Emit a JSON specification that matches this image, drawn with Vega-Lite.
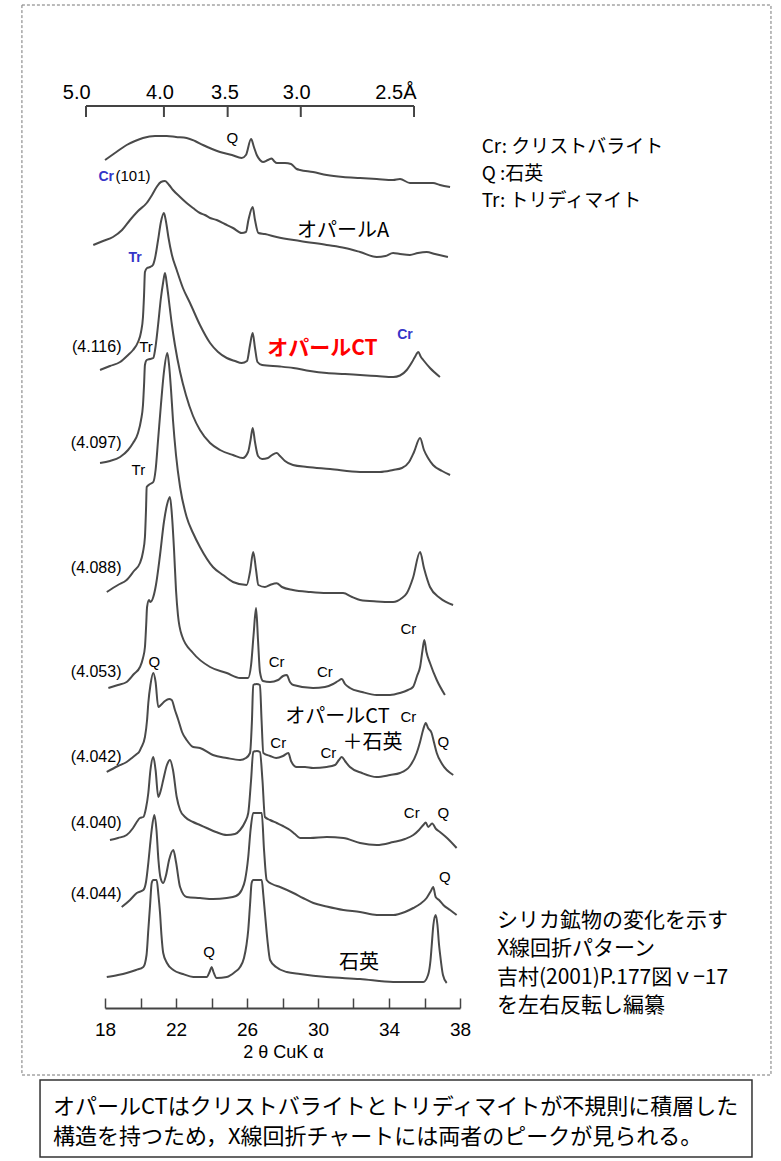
{
  "$schema": "https://vega.github.io/schema/vega-lite/v6.json",
  "width": 355,
  "height": 1008,
  "autosize": {"type": "none"},
  "padding": {"left": 105, "top": 0, "right": 321, "bottom": 153},
  "background": "white",
  "config": {"view": {"stroke": null}, "font": "Liberation Sans"},
  "datasets": {
    "traces": [
      {"s":1,"x":18.0,"y":848},{"s":1,"x":18.56,"y":855},{"s":1,"x":19.22,"y":863},{"s":1,"x":19.69,"y":867},{"s":1,"x":20.14,"y":870},{"s":1,"x":20.82,"y":872},{"s":1,"x":21.48,"y":872},{"s":1,"x":22.0,"y":871},{"s":1,"x":22.6,"y":870},{"s":1,"x":23.07,"y":867},{"s":1,"x":23.52,"y":863},{"s":1,"x":24.03,"y":859},{"s":1,"x":24.48,"y":856},{"s":1,"x":25.15,"y":853},{"s":1,"x":25.7,"y":850},{"s":1,"x":25.94,"y":853},{"s":1,"x":26.23,"y":869},{"s":1,"x":26.39,"y":861},{"s":1,"x":26.55,"y":853},{"s":1,"x":26.73,"y":848},{"s":1,"x":26.9,"y":846},{"s":1,"x":27.18,"y":848},{"s":1,"x":27.39,"y":849.5},{"s":1,"x":27.52,"y":847},{"s":1,"x":27.69,"y":845},{"s":1,"x":28.14,"y":845},{"s":1,"x":28.48,"y":844},{"s":1,"x":28.8,"y":839},{"s":1,"x":28.99,"y":838},{"s":1,"x":29.72,"y":836},{"s":1,"x":30.49,"y":833},{"s":1,"x":31.41,"y":831},{"s":1,"x":32.37,"y":830},{"s":1,"x":33.31,"y":829},{"s":1,"x":34.23,"y":828},{"s":1,"x":34.62,"y":829},{"s":1,"x":35.18,"y":825},{"s":1,"x":35.63,"y":825},{"s":1,"x":36.12,"y":825},{"s":1,"x":36.48,"y":825},{"s":1,"x":36.87,"y":823},{"s":1,"x":37.44,"y":821},
      {"s":2,"x":17.34,"y":763},{"s":2,"x":17.89,"y":767},{"s":2,"x":18.45,"y":771},{"s":2,"x":18.96,"y":778},{"s":2,"x":19.41,"y":788},{"s":2,"x":19.86,"y":797},{"s":2,"x":20.35,"y":805},{"s":2,"x":20.65,"y":813},{"s":2,"x":20.91,"y":821},{"s":2,"x":21.15,"y":826},{"s":2,"x":21.38,"y":827},{"s":2,"x":21.61,"y":823},{"s":2,"x":21.83,"y":818},{"s":2,"x":22.23,"y":811},{"s":2,"x":22.6,"y":805},{"s":2,"x":22.96,"y":800},{"s":2,"x":23.35,"y":795},{"s":2,"x":23.63,"y":793},{"s":2,"x":23.92,"y":790},{"s":2,"x":24.29,"y":788},{"s":2,"x":24.75,"y":784},{"s":2,"x":25.21,"y":780},{"s":2,"x":25.7,"y":775},{"s":2,"x":25.94,"y":776},{"s":2,"x":26.08,"y":788},{"s":2,"x":26.32,"y":801},{"s":2,"x":26.45,"y":788},{"s":2,"x":26.64,"y":775},{"s":2,"x":27.01,"y":774},{"s":2,"x":27.67,"y":771},{"s":2,"x":28.99,"y":767},{"s":2,"x":30.49,"y":763},{"s":2,"x":31.52,"y":760},{"s":2,"x":32.37,"y":756},{"s":2,"x":33.31,"y":751},{"s":2,"x":33.8,"y":752},{"s":2,"x":34.23,"y":755},{"s":2,"x":34.62,"y":754},{"s":2,"x":35.18,"y":753},{"s":2,"x":35.63,"y":755},{"s":2,"x":36.12,"y":756},{"s":2,"x":36.59,"y":754},{"s":2,"x":37.32,"y":751},
      {"s":3,"x":17.72,"y":638},{"s":3,"x":18.28,"y":642},{"s":3,"x":18.85,"y":646},{"s":3,"x":19.3,"y":653},{"s":3,"x":19.58,"y":658},{"s":3,"x":19.86,"y":666},{"s":3,"x":20.03,"y":676},{"s":3,"x":20.14,"y":691},{"s":3,"x":20.2,"y":713},{"s":3,"x":20.25,"y":736},{"s":3,"x":20.37,"y":740},{"s":3,"x":20.54,"y":741},{"s":3,"x":20.7,"y":743},{"s":3,"x":20.82,"y":750},{"s":3,"x":20.99,"y":768},{"s":3,"x":21.15,"y":786},{"s":3,"x":21.32,"y":795},{"s":3,"x":21.44,"y":786},{"s":3,"x":21.57,"y":771},{"s":3,"x":21.77,"y":753},{"s":3,"x":22.04,"y":738},{"s":3,"x":22.39,"y":720},{"s":3,"x":22.79,"y":705},{"s":3,"x":23.35,"y":683},{"s":3,"x":23.92,"y":665},{"s":3,"x":24.37,"y":656},{"s":3,"x":24.86,"y":650},{"s":3,"x":25.32,"y":647},{"s":3,"x":25.7,"y":645},{"s":3,"x":26.0,"y":647},{"s":3,"x":26.17,"y":663},{"s":3,"x":26.32,"y":675},{"s":3,"x":26.45,"y":660},{"s":3,"x":26.59,"y":646},{"s":3,"x":26.85,"y":643},{"s":3,"x":27.86,"y":641.5},{"s":3,"x":28.61,"y":640},{"s":3,"x":29.55,"y":637},{"s":3,"x":30.49,"y":635},{"s":3,"x":31.52,"y":634},{"s":3,"x":32.37,"y":633},{"s":3,"x":33.31,"y":632},{"s":3,"x":34.24,"y":631},{"s":3,"x":34.62,"y":632.5},{"s":3,"x":35.0,"y":638},{"s":3,"x":35.3,"y":646},{"s":3,"x":35.46,"y":651},{"s":3,"x":35.65,"y":656},{"s":3,"x":35.8,"y":651},{"s":3,"x":35.93,"y":648},{"s":3,"x":36.31,"y":640},{"s":3,"x":36.87,"y":631},
      {"s":4,"x":17.72,"y":545},{"s":4,"x":18.28,"y":547},{"s":4,"x":18.85,"y":551},{"s":4,"x":19.3,"y":558},{"s":4,"x":19.58,"y":565},{"s":4,"x":19.86,"y":575},{"s":4,"x":20.03,"y":588},{"s":4,"x":20.14,"y":603},{"s":4,"x":20.2,"y":623},{"s":4,"x":20.25,"y":643},{"s":4,"x":20.35,"y":648},{"s":4,"x":20.54,"y":649},{"s":4,"x":20.72,"y":650},{"s":4,"x":20.82,"y":658},{"s":4,"x":20.99,"y":683},{"s":4,"x":21.15,"y":710},{"s":4,"x":21.27,"y":725},{"s":4,"x":21.38,"y":735},{"s":4,"x":21.49,"y":723},{"s":4,"x":21.61,"y":706},{"s":4,"x":21.77,"y":683},{"s":4,"x":21.94,"y":663},{"s":4,"x":22.23,"y":636},{"s":4,"x":22.56,"y":613},{"s":4,"x":22.96,"y":592},{"s":4,"x":23.35,"y":578},{"s":4,"x":23.92,"y":565},{"s":4,"x":24.48,"y":558},{"s":4,"x":25.21,"y":553},{"s":4,"x":25.77,"y":550},{"s":4,"x":26.06,"y":556},{"s":4,"x":26.2,"y":568},{"s":4,"x":26.32,"y":580},{"s":4,"x":26.45,"y":566},{"s":4,"x":26.62,"y":552},{"s":4,"x":26.85,"y":549},{"s":4,"x":27.18,"y":550},{"s":4,"x":27.41,"y":553},{"s":4,"x":27.67,"y":555},{"s":4,"x":27.86,"y":552},{"s":4,"x":28.14,"y":547},{"s":4,"x":28.59,"y":543},{"s":4,"x":29.38,"y":541},{"s":4,"x":30.68,"y":539},{"s":4,"x":32.37,"y":536},{"s":4,"x":33.49,"y":536},{"s":4,"x":34.23,"y":538},{"s":4,"x":34.73,"y":540},{"s":4,"x":35.13,"y":546},{"s":4,"x":35.41,"y":556},{"s":4,"x":35.75,"y":570},{"s":4,"x":35.97,"y":558},{"s":4,"x":36.2,"y":550},{"s":4,"x":36.48,"y":543},{"s":4,"x":36.99,"y":537},{"s":4,"x":37.44,"y":533},
      {"s":5,"x":18.1,"y":416},{"s":5,"x":18.73,"y":423},{"s":5,"x":19.22,"y":428},{"s":5,"x":19.63,"y":437},{"s":5,"x":19.97,"y":445},{"s":5,"x":20.14,"y":456},{"s":5,"x":20.25,"y":471},{"s":5,"x":20.31,"y":498},{"s":5,"x":20.35,"y":521},{"s":5,"x":20.54,"y":524},{"s":5,"x":20.72,"y":526},{"s":5,"x":20.85,"y":538},{"s":5,"x":20.99,"y":568},{"s":5,"x":21.15,"y":603},{"s":5,"x":21.32,"y":636},{"s":5,"x":21.51,"y":655},{"s":5,"x":21.61,"y":643},{"s":5,"x":21.72,"y":618},{"s":5,"x":21.83,"y":588},{"s":5,"x":22.0,"y":553},{"s":5,"x":22.23,"y":521},{"s":5,"x":22.6,"y":491},{"s":5,"x":22.96,"y":475},{"s":5,"x":23.35,"y":461},{"s":5,"x":24.08,"y":441},{"s":5,"x":24.65,"y":433},{"s":5,"x":25.21,"y":426},{"s":5,"x":25.98,"y":423},{"s":5,"x":26.17,"y":436},{"s":5,"x":26.35,"y":456},{"s":5,"x":26.51,"y":438},{"s":5,"x":26.64,"y":423},{"s":5,"x":27.01,"y":421},{"s":5,"x":27.35,"y":423.5},{"s":5,"x":27.67,"y":424.7},{"s":5,"x":27.97,"y":421},{"s":5,"x":28.59,"y":418},{"s":5,"x":29.55,"y":416},{"s":5,"x":30.49,"y":415},{"s":5,"x":31.41,"y":415},{"s":5,"x":31.92,"y":411},{"s":5,"x":32.37,"y":408},{"s":5,"x":33.31,"y":406.5},{"s":5,"x":34.23,"y":406},{"s":5,"x":34.73,"y":410},{"s":5,"x":35.01,"y":415},{"s":5,"x":35.35,"y":430},{"s":5,"x":35.75,"y":456},{"s":5,"x":35.97,"y":440},{"s":5,"x":36.31,"y":421},{"s":5,"x":36.87,"y":410},{"s":5,"x":37.61,"y":403},
      {"s":6,"x":18.19,"y":320},{"s":6,"x":18.73,"y":323},{"s":6,"x":19.22,"y":326},{"s":6,"x":19.63,"y":334},{"s":6,"x":19.97,"y":341},{"s":6,"x":20.14,"y":350},{"s":6,"x":20.25,"y":361},{"s":6,"x":20.32,"y":383},{"s":6,"x":20.37,"y":401},{"s":6,"x":20.48,"y":408},{"s":6,"x":20.56,"y":406},{"s":6,"x":20.72,"y":411},{"s":6,"x":20.87,"y":423},{"s":6,"x":21.1,"y":453},{"s":6,"x":21.32,"y":486},{"s":6,"x":21.49,"y":503},{"s":6,"x":21.66,"y":511},{"s":6,"x":21.77,"y":493},{"s":6,"x":21.89,"y":458},{"s":6,"x":22.0,"y":418},{"s":6,"x":22.11,"y":393},{"s":6,"x":22.34,"y":372},{"s":6,"x":22.96,"y":355},{"s":6,"x":23.92,"y":341},{"s":6,"x":24.86,"y":335},{"s":6,"x":25.61,"y":330},{"s":6,"x":26.06,"y":330},{"s":6,"x":26.23,"y":343},{"s":6,"x":26.37,"y":373},{"s":6,"x":26.51,"y":400},{"s":6,"x":26.62,"y":368},{"s":6,"x":26.73,"y":336},{"s":6,"x":26.9,"y":327},{"s":6,"x":27.3,"y":326},{"s":6,"x":27.75,"y":328},{"s":6,"x":28.03,"y":332},{"s":6,"x":28.24,"y":333},{"s":6,"x":28.42,"y":326},{"s":6,"x":28.61,"y":323},{"s":6,"x":29.72,"y":320},{"s":6,"x":30.39,"y":321},{"s":6,"x":30.85,"y":324},{"s":6,"x":31.13,"y":327},{"s":6,"x":31.34,"y":329},{"s":6,"x":31.52,"y":324},{"s":6,"x":31.8,"y":320},{"s":6,"x":32.48,"y":316},{"s":6,"x":33.31,"y":313},{"s":6,"x":34.06,"y":313},{"s":6,"x":34.62,"y":315},{"s":6,"x":35.07,"y":318},{"s":6,"x":35.35,"y":321},{"s":6,"x":35.58,"y":332},{"s":6,"x":35.75,"y":341},{"s":6,"x":35.89,"y":358},{"s":6,"x":35.99,"y":368},{"s":6,"x":36.11,"y":356},{"s":6,"x":36.31,"y":345},{"s":6,"x":36.69,"y":328},{"s":6,"x":37.15,"y":313},
      {"s":7,"x":18.1,"y":236},{"s":7,"x":18.73,"y":242},{"s":7,"x":19.22,"y":246},{"s":7,"x":19.58,"y":251},{"s":7,"x":19.79,"y":254},{"s":7,"x":19.92,"y":256},{"s":7,"x":20.03,"y":260},{"s":7,"x":20.25,"y":271},{"s":7,"x":20.37,"y":288},{"s":7,"x":20.44,"y":305},{"s":7,"x":20.56,"y":323},{"s":7,"x":20.72,"y":335},{"s":7,"x":20.85,"y":326},{"s":7,"x":21.0,"y":301},{"s":7,"x":21.15,"y":303},{"s":7,"x":21.38,"y":307},{"s":7,"x":21.61,"y":309},{"s":7,"x":21.76,"y":308},{"s":7,"x":21.94,"y":298},{"s":7,"x":22.13,"y":288},{"s":7,"x":22.34,"y":276},{"s":7,"x":22.6,"y":268},{"s":7,"x":22.97,"y":261},{"s":7,"x":23.35,"y":260},{"s":7,"x":24.08,"y":253},{"s":7,"x":24.86,"y":250},{"s":7,"x":25.61,"y":248},{"s":7,"x":25.94,"y":250},{"s":7,"x":26.17,"y":255},{"s":7,"x":26.28,"y":288},{"s":7,"x":26.35,"y":323},{"s":7,"x":26.54,"y":324},{"s":7,"x":26.73,"y":323},{"s":7,"x":26.82,"y":288},{"s":7,"x":26.92,"y":255},{"s":7,"x":27.3,"y":252},{"s":7,"x":27.64,"y":250},{"s":7,"x":28.03,"y":252},{"s":7,"x":28.33,"y":255},{"s":7,"x":28.48,"y":247},{"s":7,"x":28.8,"y":241},{"s":7,"x":29.27,"y":241},{"s":7,"x":29.72,"y":240},{"s":7,"x":30.49,"y":241},{"s":7,"x":30.96,"y":243},{"s":7,"x":31.18,"y":248},{"s":7,"x":31.34,"y":251},{"s":7,"x":31.52,"y":247},{"s":7,"x":31.8,"y":241},{"s":7,"x":32.48,"y":235},{"s":7,"x":33.31,"y":231},{"s":7,"x":34.06,"y":233},{"s":7,"x":34.62,"y":235},{"s":7,"x":35.18,"y":242},{"s":7,"x":35.56,"y":255},{"s":7,"x":35.75,"y":266},{"s":7,"x":35.92,"y":278},{"s":7,"x":36.07,"y":285},{"s":7,"x":36.2,"y":280},{"s":7,"x":36.4,"y":275},{"s":7,"x":36.53,"y":266},{"s":7,"x":36.69,"y":255},{"s":7,"x":36.99,"y":244},{"s":7,"x":37.62,"y":233},
      {"s":8,"x":18.28,"y":168},{"s":8,"x":18.73,"y":170},{"s":8,"x":19.22,"y":173},{"s":8,"x":19.58,"y":180},{"s":8,"x":19.79,"y":186},{"s":8,"x":19.97,"y":190},{"s":8,"x":20.16,"y":191},{"s":8,"x":20.31,"y":200},{"s":8,"x":20.44,"y":215},{"s":8,"x":20.56,"y":238},{"s":8,"x":20.72,"y":251},{"s":8,"x":20.85,"y":238},{"s":8,"x":21.0,"y":211},{"s":8,"x":21.15,"y":218},{"s":8,"x":21.28,"y":228},{"s":8,"x":21.49,"y":243},{"s":8,"x":21.66,"y":248},{"s":8,"x":21.83,"y":238},{"s":8,"x":22.04,"y":211},{"s":8,"x":22.23,"y":198},{"s":8,"x":22.51,"y":191},{"s":8,"x":22.96,"y":186},{"s":8,"x":23.35,"y":183},{"s":8,"x":23.73,"y":180},{"s":8,"x":24.25,"y":176},{"s":8,"x":24.86,"y":173},{"s":8,"x":25.32,"y":174},{"s":8,"x":25.61,"y":178},{"s":8,"x":25.89,"y":186},{"s":8,"x":26.07,"y":195},{"s":8,"x":26.23,"y":228},{"s":8,"x":26.35,"y":256},{"s":8,"x":26.56,"y":257},{"s":8,"x":26.73,"y":256},{"s":8,"x":26.87,"y":228},{"s":8,"x":27.01,"y":191},{"s":8,"x":27.3,"y":188},{"s":8,"x":27.67,"y":185},{"s":8,"x":28.03,"y":182},{"s":8,"x":28.42,"y":178},{"s":8,"x":28.7,"y":174},{"s":8,"x":28.99,"y":170},{"s":8,"x":29.55,"y":170},{"s":8,"x":30.49,"y":171},{"s":8,"x":31.43,"y":170},{"s":8,"x":32.37,"y":165},{"s":8,"x":33.31,"y":163},{"s":8,"x":34.24,"y":166},{"s":8,"x":34.9,"y":169},{"s":8,"x":35.37,"y":173},{"s":8,"x":35.69,"y":178},{"s":8,"x":35.93,"y":183},{"s":8,"x":36.07,"y":185.5},{"s":8,"x":36.21,"y":181},{"s":8,"x":36.43,"y":184.5},{"s":8,"x":36.65,"y":179},{"s":8,"x":36.87,"y":176},{"s":8,"x":37.27,"y":170},{"s":8,"x":37.81,"y":160},
      {"s":9,"x":18.94,"y":101},{"s":9,"x":19.41,"y":108},{"s":9,"x":19.79,"y":115},{"s":9,"x":20.16,"y":118},{"s":9,"x":20.31,"y":126},{"s":9,"x":20.44,"y":145},{"s":9,"x":20.54,"y":163},{"s":9,"x":20.63,"y":178},{"s":9,"x":20.78,"y":193},{"s":9,"x":20.9,"y":178},{"s":9,"x":21.01,"y":148},{"s":9,"x":21.13,"y":130},{"s":9,"x":21.28,"y":125},{"s":9,"x":21.44,"y":133},{"s":9,"x":21.61,"y":148},{"s":9,"x":21.85,"y":158},{"s":9,"x":22.0,"y":146},{"s":9,"x":22.23,"y":121},{"s":9,"x":22.6,"y":111},{"s":9,"x":23.35,"y":110},{"s":9,"x":24.08,"y":109},{"s":9,"x":24.86,"y":110},{"s":9,"x":25.38,"y":112},{"s":9,"x":25.7,"y":118},{"s":9,"x":25.89,"y":128},{"s":9,"x":26.07,"y":151},{"s":9,"x":26.2,"y":178},{"s":9,"x":26.35,"y":195},{"s":9,"x":26.59,"y":195},{"s":9,"x":26.83,"y":195},{"s":9,"x":26.96,"y":158},{"s":9,"x":27.11,"y":128},{"s":9,"x":27.41,"y":124},{"s":9,"x":27.86,"y":121},{"s":9,"x":28.61,"y":115},{"s":9,"x":29.15,"y":110},{"s":9,"x":29.74,"y":105},{"s":9,"x":30.49,"y":101.5},{"s":9,"x":31.43,"y":98},{"s":9,"x":32.37,"y":96},{"s":9,"x":33.31,"y":93},{"s":9,"x":34.24,"y":93},{"s":9,"x":34.9,"y":96},{"s":9,"x":35.37,"y":100},{"s":9,"x":35.75,"y":104},{"s":9,"x":36.12,"y":110},{"s":9,"x":36.36,"y":117},{"s":9,"x":36.49,"y":121},{"s":9,"x":36.63,"y":111},{"s":9,"x":36.82,"y":108},{"s":9,"x":37.06,"y":103},{"s":9,"x":37.44,"y":98},{"s":9,"x":37.81,"y":93},
      {"s":10,"x":18.1,"y":31},{"s":10,"x":18.73,"y":33},{"s":10,"x":19.22,"y":35},{"s":10,"x":19.75,"y":38},{"s":10,"x":20.16,"y":41},{"s":10,"x":20.34,"y":53},{"s":10,"x":20.44,"y":78},{"s":10,"x":20.54,"y":103},{"s":10,"x":20.63,"y":125},{"s":10,"x":20.72,"y":128},{"s":10,"x":20.91,"y":128},{"s":10,"x":21.01,"y":113},{"s":10,"x":21.1,"y":95},{"s":10,"x":21.18,"y":73},{"s":10,"x":21.28,"y":55},{"s":10,"x":21.49,"y":45},{"s":10,"x":21.85,"y":38},{"s":10,"x":22.39,"y":34},{"s":10,"x":22.97,"y":31},{"s":10,"x":23.73,"y":31},{"s":10,"x":23.89,"y":36},{"s":10,"x":24.01,"y":41},{"s":10,"x":24.11,"y":36},{"s":10,"x":24.29,"y":30},{"s":10,"x":24.86,"y":31},{"s":10,"x":25.32,"y":36},{"s":10,"x":25.61,"y":41},{"s":10,"x":25.83,"y":50},{"s":10,"x":25.97,"y":63},{"s":10,"x":26.07,"y":78},{"s":10,"x":26.17,"y":103},{"s":10,"x":26.26,"y":125},{"s":10,"x":26.35,"y":128},{"s":10,"x":26.83,"y":128},{"s":10,"x":26.92,"y":113},{"s":10,"x":27.01,"y":95},{"s":10,"x":27.15,"y":68},{"s":10,"x":27.3,"y":48},{"s":10,"x":27.64,"y":41},{"s":10,"x":28.24,"y":36},{"s":10,"x":28.99,"y":34},{"s":10,"x":30.49,"y":31},{"s":10,"x":32.37,"y":29},{"s":10,"x":34.24,"y":26},{"s":10,"x":35.18,"y":26},{"s":10,"x":35.93,"y":26},{"s":10,"x":36.2,"y":33},{"s":10,"x":36.34,"y":48},{"s":10,"x":36.4,"y":61},{"s":10,"x":36.5,"y":83},{"s":10,"x":36.63,"y":93},{"s":10,"x":36.73,"y":83},{"s":10,"x":36.82,"y":63},{"s":10,"x":36.87,"y":55},{"s":10,"x":37.04,"y":33},{"s":10,"x":37.25,"y":25}
    ],
    "daxis": [
      {"x":16.93,"x2":35.41,"y":902,"y2":902},
      {"x":16.93,"x2":16.93,"y":902,"y2":891},
      {"x":21.32,"x2":21.32,"y":902,"y2":891},
      {"x":24.91,"x2":24.91,"y":902,"y2":891},
      {"x":29.03,"x2":29.03,"y":902,"y2":891},
      {"x":35.41,"x2":35.41,"y":902,"y2":891}
    ],
    "frame": [{"x":13.32,"x2":55.52,"y":1003,"y2":-67}],
    "box": [{"x":14.34,"x2":54.45,"y":-72,"y2":-149}],
    "labels": [
      {"k":"dax","t":"5.0","x":16.41,"y":908.7},
      {"k":"dax","t":"4.0","x":21.1,"y":908.7},
      {"k":"dax","t":"3.5","x":24.76,"y":908.7},
      {"k":"dax","t":"3.0","x":28.8,"y":908.7},
      {"k":"dax","t":"2.5Å","x":34.39,"y":908.7},
      {"k":"pk","t":"Q","x":25.17,"y":869.7},
      {"k":"pk","t":"(101)","x":19.58,"y":832},
      {"k":"pk","t":"Tr","x":20.31,"y":661},
      {"k":"pk","t":"Tr","x":19.88,"y":538},
      {"k":"pk","t":"Cr","x":35.09,"y":379},
      {"k":"pk","t":"Q","x":20.78,"y":346},
      {"k":"pk","t":"Cr","x":27.67,"y":346},
      {"k":"pk","t":"Cr","x":30.39,"y":336},
      {"k":"pk","t":"Cr","x":35.09,"y":291},
      {"k":"pk","t":"Q","x":37.06,"y":266},
      {"k":"pk","t":"Cr","x":27.76,"y":265},
      {"k":"pk","t":"Cr","x":30.58,"y":255},
      {"k":"pk","t":"Cr","x":35.28,"y":195},
      {"k":"pk","t":"Q","x":37.06,"y":195},
      {"k":"pk","t":"Q","x":37.15,"y":131},
      {"k":"pk","t":"Q","x":23.86,"y":56},
      {"k":"pkb","t":"Cr","x":18.07,"y":831},
      {"k":"pkb","t":"Tr","x":19.69,"y":750},
      {"k":"pkb","t":"Cr","x":34.9,"y":673},
      {"k":"smp","t":"(4.116)","x":18.93,"y":661},
      {"k":"smp","t":"(4.097)","x":18.93,"y":565},
      {"k":"smp","t":"(4.088)","x":18.93,"y":440},
      {"k":"smp","t":"(4.053)","x":18.93,"y":336},
      {"k":"smp","t":"(4.042)","x":18.93,"y":251},
      {"k":"smp","t":"(4.040)","x":18.93,"y":185},
      {"k":"smp","t":"(4.044)","x":18.93,"y":114},
      {"k":"min","t":"オパールA","x":31.41,"y":777},
      {"k":"min","t":"オパールCT","x":31.1,"y":291},
      {"k":"min","t":"＋石英","x":33.07,"y":265},
      {"k":"min","t":"石英","x":32.31,"y":45},
      {"k":"red","t":"オパールCT","x":30.25,"y":659},
      {"k":"leg","t":"Cr: クリストバライト","x":39.22,"y":854.7},
      {"k":"leg","t":"Q :石英","x":39.22,"y":828},
      {"k":"leg","t":"Tr: トリディマイト","x":39.22,"y":801},
      {"k":"desc","t":"シリカ鉱物の変化を示す\nX線回折パターン\n吉村(2001)P.177図ｖ−17\nを左右反転し編纂","x":40.08,"y":81.5},
      {"k":"note","t":"オパールCTはクリストバライトとトリディマイトが不規則に積層した\n構造を持つため，X線回折チャートには両者のピークが見られる。","x":15.07,"y":-106}
    ]
  },
  "encoding": {
    "x": {
      "field": "x", "type": "quantitative",
      "scale": {"domain": [18, 38], "nice": false, "zero": false},
      "axis": {
        "values": [18, 20, 22, 24, 26, 28, 30, 32, 34, 36, 38],
        "labelExpr": "datum.value % 4 == 2 ? datum.label : ''",
        "grid": false,
        "tickSize": -10, "tickColor": "#444", "tickWidth": 1.5,
        "domainColor": "#444", "domainWidth": 2,
        "labelFont": "Liberation Sans", "labelFontSize": 19, "labelColor": "#000",
        "labelBaseline": "alphabetic", "labelPadding": 37,
        "labelFlush": false, "labelOverlap": false,
        "title": "2 θ CuK  α",
        "titleFont": "Liberation Sans", "titleFontSize": 18, "titleFontWeight": "normal",
        "titleColor": "#000", "titleBaseline": "alphabetic", "titleAlign": "center",
        "titleX": 178, "titleY": 49
      }
    },
    "y": {
      "field": "y", "type": "quantitative",
      "scale": {"domain": [0, 1008], "nice": false, "zero": false},
      "axis": null
    }
  },
  "layer": [
    {
      "data": {"name": "frame"},
      "mark": {"type": "rect", "fillOpacity": 0, "stroke": "#777", "strokeWidth": 1, "strokeDash": [3, 2]},
      "encoding": {"x2": {"field": "x2"}, "y2": {"field": "y2"}}
    },
    {
      "data": {"name": "traces"},
      "mark": {"type": "line", "color": "#4a4a4a", "strokeWidth": 2, "interpolate": "monotone"},
      "encoding": {"detail": {"field": "s", "type": "nominal"}}
    },
    {
      "data": {"name": "daxis"},
      "mark": {"type": "rule", "color": "#444", "strokeWidth": 2},
      "encoding": {"x2": {"field": "x2"}, "y2": {"field": "y2"}}
    },
    {
      "data": {"name": "labels"},
      "transform": [{"filter": "datum.k == 'dax'"}],
      "mark": {"type": "text", "font": "Liberation Sans", "fontSize": 20, "color": "#000", "align": "center", "baseline": "alphabetic"},
      "encoding": {"text": {"field": "t"}}
    },
    {
      "data": {"name": "labels"},
      "transform": [{"filter": "datum.k == 'pk'"}],
      "mark": {"type": "text", "font": "Liberation Sans", "fontSize": 15, "color": "#000", "align": "center", "baseline": "middle"},
      "encoding": {"text": {"field": "t"}}
    },
    {
      "data": {"name": "labels"},
      "transform": [{"filter": "datum.k == 'pkb'"}],
      "mark": {"type": "text", "font": "Liberation Sans", "fontSize": 14, "fontWeight": "bold", "color": "#3535c8", "align": "center", "baseline": "middle"},
      "encoding": {"text": {"field": "t"}}
    },
    {
      "data": {"name": "labels"},
      "transform": [{"filter": "datum.k == 'smp'"}],
      "mark": {"type": "text", "font": "Liberation Sans", "fontSize": 16, "color": "#000", "align": "right", "baseline": "middle"},
      "encoding": {"text": {"field": "t"}}
    },
    {
      "data": {"name": "labels"},
      "transform": [{"filter": "datum.k == 'min'"}],
      "mark": {"type": "text", "font": "Noto Sans CJK JP", "fontSize": 20, "color": "#000", "align": "center", "baseline": "middle"},
      "encoding": {"text": {"field": "t"}}
    },
    {
      "data": {"name": "labels"},
      "transform": [{"filter": "datum.k == 'red'"}],
      "mark": {"type": "text", "font": "Noto Sans CJK JP", "fontSize": 21, "fontWeight": "bold", "color": "#ff0000", "align": "center", "baseline": "middle"},
      "encoding": {"text": {"field": "t"}}
    },
    {
      "data": {"name": "labels"},
      "transform": [{"filter": "datum.k == 'leg'"}],
      "mark": {"type": "text", "font": "Noto Sans CJK JP", "fontSize": 19, "color": "#000", "align": "left", "baseline": "alphabetic"},
      "encoding": {"text": {"field": "t"}}
    },
    {
      "data": {"name": "labels"},
      "transform": [{"filter": "datum.k == 'desc'"}],
      "mark": {"type": "text", "font": "Noto Sans CJK JP", "fontSize": 21, "color": "#000", "align": "left", "baseline": "alphabetic", "lineBreak": "\n", "lineHeight": 28.5},
      "encoding": {"text": {"field": "t"}}
    },
    {
      "data": {"name": "box"},
      "mark": {"type": "rect", "fill": "white", "stroke": "#333", "strokeWidth": 1.5},
      "encoding": {"x2": {"field": "x2"}, "y2": {"field": "y2"}}
    },
    {
      "data": {"name": "labels"},
      "transform": [{"filter": "datum.k == 'note'"}],
      "mark": {"type": "text", "font": "Noto Sans CJK JP", "fontSize": 22, "color": "#000", "align": "left", "baseline": "alphabetic", "lineBreak": "\n", "lineHeight": 30},
      "encoding": {"text": {"field": "t"}}
    }
  ]
}
